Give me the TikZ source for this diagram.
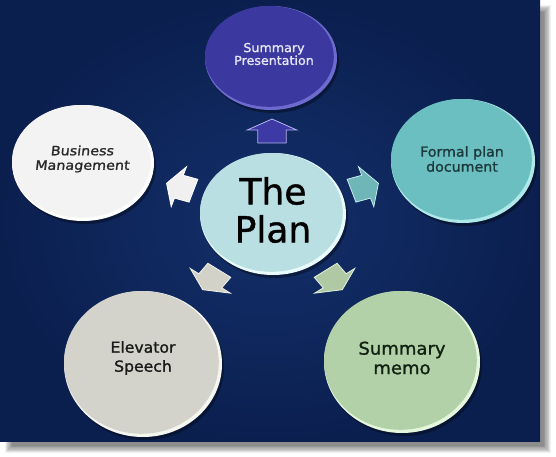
\documentclass[tikz,border=0pt]{standalone}
\usepackage{fontspec}
\newfontfamily\df[FakeStretch=1.03,FakeBold=1.3]{DejaVu Sans}
\newfontfamily\dfs[FakeStretch=1.12,FakeSlant=0.12,FakeBold=1.3]{DejaVu Sans}
\newfontfamily\dfp[FakeBold=1.1]{DejaVu Sans}
\usetikzlibrary{shapes.geometric,calc}
\definecolor{bgin}{HTML}{13306A}
\definecolor{bgout}{HTML}{0B1F4F}
\definecolor{sprim}{HTML}{6E6BD0}
\definecolor{spmain}{HTML}{3B389F}
\definecolor{sptext}{HTML}{E6E6F6}
\definecolor{fprim}{HTML}{AEE8E8}
\definecolor{fpmain}{HTML}{6CBFC1}
\definecolor{fptext}{HTML}{1C3A3E}
\definecolor{bmrim}{HTML}{FFFFFF}
\definecolor{bmmain}{HTML}{F3F3F3}
\definecolor{bmtext}{HTML}{2A2A2A}
\definecolor{esrim}{HTML}{F6F6F1}
\definecolor{esmain}{HTML}{D3D3CC}
\definecolor{estext}{HTML}{1A1A1A}
\definecolor{smrim}{HTML}{E4F6DC}
\definecolor{smmain}{HTML}{B2D1A8}
\definecolor{smtext}{HTML}{122212}
\definecolor{plrim}{HTML}{EAFBFC}
\definecolor{plmain}{HTML}{B9DFE3}
\definecolor{aupfill}{HTML}{3D3AA6}
\definecolor{aupdraw}{HTML}{B4B2EE}
\definecolor{alfill}{HTML}{F0F0F0}
\definecolor{arfill}{HTML}{6FB6B9}
\definecolor{ardraw}{HTML}{C4EAEC}
\definecolor{allfill}{HTML}{D2D2C8}
\definecolor{alldraw}{HTML}{F2F2EC}
\definecolor{alrfill}{HTML}{B0C9A4}
\definecolor{alrdraw}{HTML}{E2F2DA}
\newcommand\plannerarrow[4]{%
  \begin{scope}[shift={(#1,#2)}, xscale=1.18, rotate=#3]
    \filldraw[#4, line width=0.8pt, line join=miter] (-12pt,-12pt) -- (1pt,-12pt) -- (1pt,-21pt) -- (12pt,0pt) -- (1pt,21pt) -- (1pt,12pt) -- (-12pt,12pt) -- cycle;
  \end{scope}}
\newcommand\plannerbubble[7]{%
  \fill[black, opacity=0.35] (#2+2,#3+3) ellipse [x radius=#4pt, y radius=#5pt];
  \node[ellipse, inner sep=0pt, outer sep=0pt, minimum width=2*#4pt, minimum height=2*#5pt, fill=#6] (#1) at (#2,#3) {};
  \fill[#7] ([shift={(-1.6pt,1.6pt)}]#1.center) ellipse [x radius={#4pt-1.6pt}, y radius={#5pt-1.6pt}];}
\tikzset{bubtext/.style={align=center, inner sep=0pt}}
\begin{document}
\begin{tikzpicture}[x=1pt,y=-1pt]
\useasboundingbox (0,0) rectangle (556,457);
\fill[white] (0,0) rectangle (556,457);
% panel shadow
\foreach \i in {0,...,9} {
  \fill[black, opacity=0.055] (5+\i*0.8,5+\i*0.8) rectangle (551-\i*0.8,453-\i*0.8);
}
\shade[inner color=bgin, outer color=bgout] (0,0) rectangle (540,441);
% bubbles
\plannerbubble{sp}{271}{58}{66}{52}{sprim}{spmain}
\plannerbubble{fp}{463}{161}{72}{62}{fprim}{fpmain}
\plannerbubble{bm}{83}{163}{71}{58}{bmrim}{bmmain}
\plannerbubble{es}{143}{364}{79}{73}{esrim}{esmain}
\plannerbubble{sm}{402}{362}{78}{71}{smrim}{smmain}
\plannerbubble{pl}{273}{214}{73}{61}{plrim}{plmain}
% texts
\node[bubtext, font=\df\fontsize{12.3}{12.8}\selectfont, text=sptext] (spt) at (274,54) {Summary\\Presentation};
\node[bubtext, font=\df\fontsize{13.8}{15}\selectfont, text=fptext] (fpt) at (462,159) {Formal plan\\document};
\node[bubtext, font=\dfs\fontsize{12.8}{14.5}\selectfont, text=bmtext] (bmt) at (82,159) {Business\\Management};
\node[bubtext, font=\df\fontsize{15.2}{19}\selectfont, text=estext] (est) at (143,358) {Elevator\\Speech};
\node[bubtext, font=\df\fontsize{17.5}{19.5}\selectfont, text=smtext] (smt) at (402,358) {Summary\\memo};
\node[bubtext, font=\dfp\fontsize{36}{38}\selectfont, text=black] (plt) at (273,210) {The\\Plan};
% arrows
\plannerarrow{272}{131}{90}{fill=aupfill, draw=aupdraw}
\plannerarrow{180}{187}{162}{fill=alfill, draw=white}
\plannerarrow{365}{187}{18}{fill=arfill, draw=ardraw}
\plannerarrow{211}{280}{234}{fill=allfill, draw=alldraw}
\plannerarrow{334}{280}{306}{fill=alrfill, draw=alrdraw}
\end{tikzpicture}
\end{document}
